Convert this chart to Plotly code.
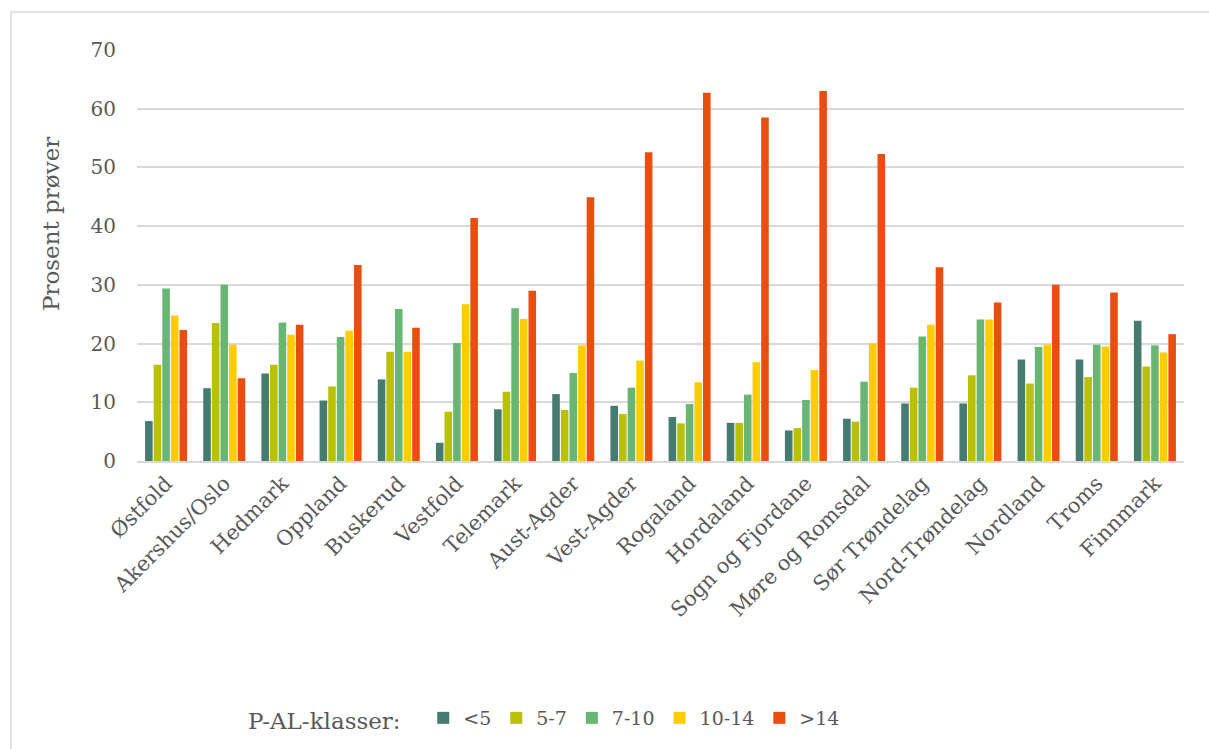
import plotly.graph_objects as go

# Counties (fylker) on the category axis
fylker = ["Østfold", "Akershus/Oslo", "Hedmark", "Oppland", "Buskerud", "Vestfold",
          "Telemark", "Aust-Agder", "Vest-Agder", "Rogaland", "Hordaland",
          "Sogn og Fjordane", "Møre og Romsdal", "Sør Trøndelag", "Nord-Trøndelag",
          "Nordland", "Troms", "Finnmark"]

# Share of soil samples (%) per P-AL class
klasse_lt5 = [6.8, 12.4, 14.9, 10.3, 13.9, 3.1, 8.8, 11.4, 9.4, 7.5, 6.5, 5.2, 7.2, 9.8, 9.8, 17.3, 17.3, 23.9]
klasse_5_7 = [16.4, 23.5, 16.4, 12.7, 18.6, 8.4, 11.8, 8.7, 8.0, 6.4, 6.5, 5.6, 6.7, 12.5, 14.6, 13.2, 14.3, 16.1]
klasse_7_10 = [29.4, 30.0, 23.6, 21.1, 25.9, 20.1, 26.0, 15.0, 12.5, 9.7, 11.3, 10.4, 13.5, 21.2, 24.1, 19.4, 19.8, 19.7]
klasse_10_14 = [24.8, 19.8, 21.5, 22.2, 18.6, 26.7, 24.2, 19.7, 17.1, 13.4, 16.8, 15.5, 20.0, 23.2, 24.1, 19.8, 19.5, 18.5]
klasse_gt14 = [22.3, 14.1, 23.2, 33.4, 22.7, 41.4, 29.0, 44.9, 52.6, 62.7, 58.5, 63.0, 52.3, 33.0, 27.0, 30.0, 28.7, 21.6]

klasser = ["<5", "5-7", "7-10", "10-14", ">14"]
serier = [klasse_lt5, klasse_5_7, klasse_7_10, klasse_10_14, klasse_gt14]
farger = ["#467B70", "#B9C107", "#69B674", "#FFCC00", "#E84E10"]

y_ticks = [0, 10, 20, 30, 40, 50, 60, 70]

W, H = 1209, 749
ML, MR, MT, MB = 137, 25, 50, 288
TEXT = "#595959"
FONT = "DejaVu Serif"

fig = go.Figure()
for navn, verdier, farge in zip(klasser, serier, farger):
    fig.add_trace(go.Bar(
        x=fylker, y=verdier, name=navn,
        marker=dict(color=farge, line=dict(width=0)),
    ))

# Helpers converting pixel positions to paper fractions
pw = W - ML - MR
ph = H - MT - MB
def px_x(p):
    return (p - ML) / pw
def px_y(p):
    return 1 - (p - MT) / ph

# Outer frame of the chart area (runs off the right and bottom edges)
fig.add_shape(type="rect", xref="paper", yref="paper",
              x0=px_x(11), x1=px_x(W + 5), y0=px_y(H + 5), y1=px_y(12),
              line=dict(color="#D9D9D9", width=1.5), fillcolor="rgba(0,0,0,0)",
              layer="below")

# Y-axis title
fig.add_annotation(text="Prosent prøver", xref="paper", yref="paper",
                   x=px_x(51), y=px_y(224), xanchor="center", yanchor="middle",
                   textangle=-90, showarrow=False,
                   font=dict(family=FONT, size=23, color=TEXT))

fig.update_layout(
    width=W, height=H,
    margin=dict(l=ML, r=MR, t=MT, b=MB, autoexpand=False),
    paper_bgcolor="white", plot_bgcolor="white",
    barmode="group", bargap=0.26, bargroupgap=0.12,
    font=dict(family=FONT, color=TEXT, size=19),
    xaxis=dict(
        type="category", tickangle=-45, showgrid=False,
        showline=True, linecolor="#D9D9D9", linewidth=1.5,
        ticks="", tickfont=dict(size=21, color=TEXT),
    ),
    yaxis=dict(
        range=[0, 70], tickvals=y_ticks, showgrid=True,
        gridcolor="#D9D9D9", gridwidth=1.5, zeroline=False,
        ticks="", ticklabelstandoff=20, tickfont=dict(size=20, color=TEXT),
    ),
    legend=dict(
        orientation="h", xref="container", yref="container",
        x=246 / W, y=1 - 719 / H, xanchor="left", yanchor="middle",
        font=dict(size=19, color=TEXT), itemwidth=30,
        title=dict(text="P-AL-klasser:  ", side="left", font=dict(size=23, color=TEXT)),
        bgcolor="rgba(0,0,0,0)",
    ),
    showlegend=True,
)

fig.write_html("out.html")
